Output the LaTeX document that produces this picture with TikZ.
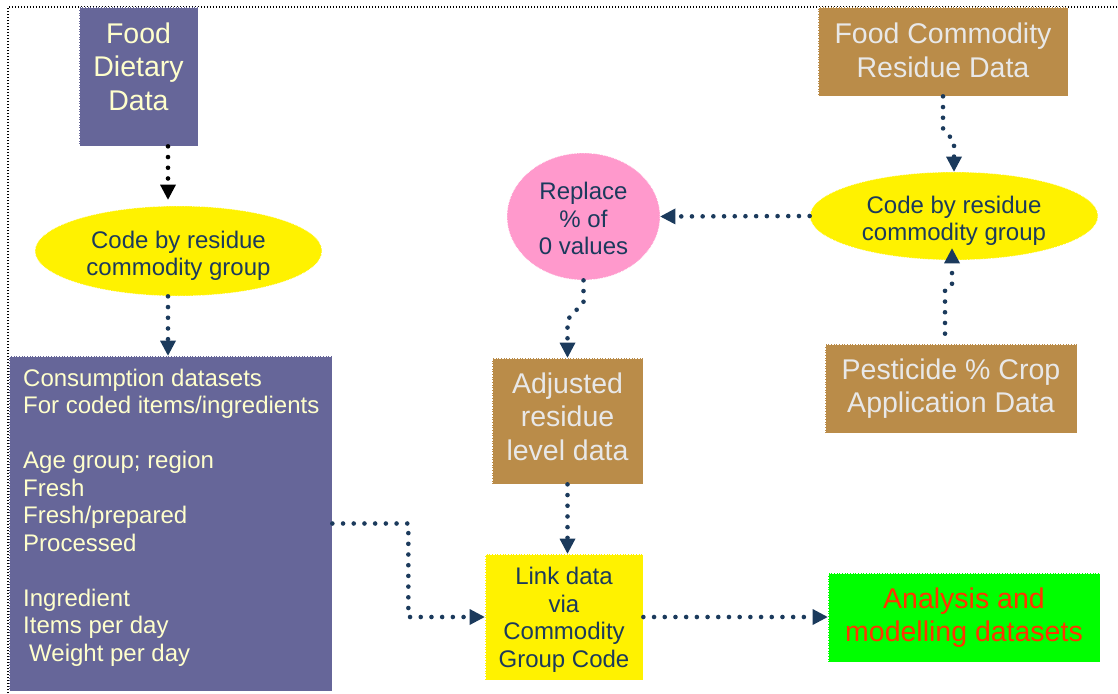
\documentclass[tikz,border=0pt]{standalone}
\usepackage{fontspec}
\setmainfont{Liberation Sans}
\usetikzlibrary{shapes.geometric,arrows.meta,calc}

\definecolor{purp}{HTML}{666699}
\definecolor{cream}{HTML}{FFFFCC}
\definecolor{brownbox}{HTML}{BA8C49}
\definecolor{lgray}{HTML}{E8E8E8}
\definecolor{navy}{HTML}{1B3A5C}
\definecolor{pinkfill}{HTML}{FF99CC}
\definecolor{greenfill}{HTML}{00FF00}
\definecolor{redtext}{HTML}{FF3300}

\newcommand\bigtxt{\fontsize{28.5}{33.5}\selectfont}
\newcommand\smtxt{\fontsize{24}{27.5}\selectfont}

\tikzset{
  frame/.style={draw=black, line width=1.1pt, dash pattern=on 1.1pt off 1.9pt},
  box/.style={rectangle, draw=white, line width=0.7pt, dash pattern=on 0.7pt off 0.9pt,
              inner sep=0pt},
  oval/.style={ellipse, draw=white, line width=0.7pt, dash pattern=on 0.7pt off 0.9pt,
               inner sep=0pt},
  bigtext/.style={font=\bigtxt, align=center, inner sep=0pt},
  smtext/.style={font=\smtxt, align=center, inner sep=0pt},
  conn/.style={draw=navy, line width=4.6pt, line cap=round, dash pattern=on 0pt off 10.7pt,
               -{Triangle[width=16pt,length=15pt,line width=0pt]}},
  connb/.style={conn, draw=black},
}

\begin{document}
\begin{tikzpicture}[x=1pt,y=-1pt]
\useasboundingbox (0,0) rectangle (1118,693);

% outer dotted frame
\draw[frame] (8,693) -- (8,7) -- (1118,7);

% left column
\node[box, fill=purp, minimum width=119pt, minimum height=139pt] (diet) at (138.5,76.5) {};
\node[bigtext, text=cream] (diettxt) at ($(diet.center)+(0,-10)$) {Food\\Dietary\\Data};

\node[oval, fill=yellow, minimum width=287pt, minimum height=90pt] (ellL) at (178.5,251) {};
\node[smtext, text=navy] (ellLtxt) at ($(ellL.center)+(0,5)$) {Code by residue\\commodity group};

\node[box, fill=purp, minimum width=323pt, minimum height=335pt] (cons) at (170.5,523.5) {};
\node[smtext, text=cream, align=left, anchor=north west] (constxt) at (23,368.5)
  {Consumption datasets\\For coded items/ingredients\\[27.5pt]Age group; region\\Fresh\\Fresh/prepared\\Processed\\[27.5pt]Ingredient\\Items per day\\\hspace*{6pt}Weight per day};

% right part
\node[box, fill=brownbox, minimum width=250pt, minimum height=89pt] (res) at (943,51.5) {};
\node[bigtext, text=lgray] (restxt) at ($(res.center)+(0,-1)$) {Food Commodity\\Residue Data};

\node[oval, fill=yellow, minimum width=288pt, minimum height=88pt] (ellR) at (954,216) {};
\node[smtext, text=navy] (ellRtxt) at ($(ellR.center)+(0,5)$) {Code by residue\\commodity group};

\node[oval, fill=pinkfill, minimum width=153pt, minimum height=127pt] (pink) at (583.5,216.5) {};
\node[smtext, text=navy] (pinktxt) at ($(pink.center)+(0,2)$) {Replace\\\% of\\0 values};

\node[box, fill=brownbox, minimum width=252pt, minimum height=89pt] (pest) at (951,388.5) {};
\node[bigtext, text=lgray] (pesttxt) at (pest.center) {Pesticide \% Crop\\Application Data};

\node[box, fill=brownbox, minimum width=151pt, minimum height=126pt] (adj) at (567.5,421) {};
\node[bigtext, text=lgray] (adjtxt) at ($(adj.center)+(0,-4.5)$) {Adjusted\\residue\\level data};

\node[box, fill=yellow, minimum width=158pt, minimum height=126pt] (link) at (564,617) {};
\node[smtext, text=navy] (linktxt) at ($(link.center)+(0,3)$) {Link data\\via\\Commodity\\Group Code};

\node[box, fill=greenfill, minimum width=272pt, minimum height=89pt] (ana) at (964,617.5) {};
\node[bigtext, text=redtext] (anatxt) at (ana.center) {Analysis and\\modelling datasets};

% connectors
\coordinate (colL) at (168,0);
\draw[connb, shorten >=6pt] (diet.south -| colL) -- (ellL.north -| colL);
\draw[conn] (ellL.south -| colL) -- (cons.north -| colL);
\draw[conn] (cons.east) -- ++(76,0) |- (link.west);
\draw[conn] (link.east) -- (link.east -| ana.west);
\draw[conn] (adj.south) -- (adj.south |- link.north);
\draw[conn] (res.south) -- ++(0,32) -- ($(ellR.north)+(0,-30)$) -- (ellR.north);
\draw[conn] ($(pest.north)+(-6,-10)$) -- ++(0,-44) -- ++(7,-5) -- ($(ellR.south)+(-2,-12)$);
\draw[conn] (ellR.west) -- (pink.east);
\draw[conn] (pink.south) -- ++(0,22) -- ($(adj.north)+(0,-38)$) -- (adj.north);
\end{tikzpicture}
\end{document}
